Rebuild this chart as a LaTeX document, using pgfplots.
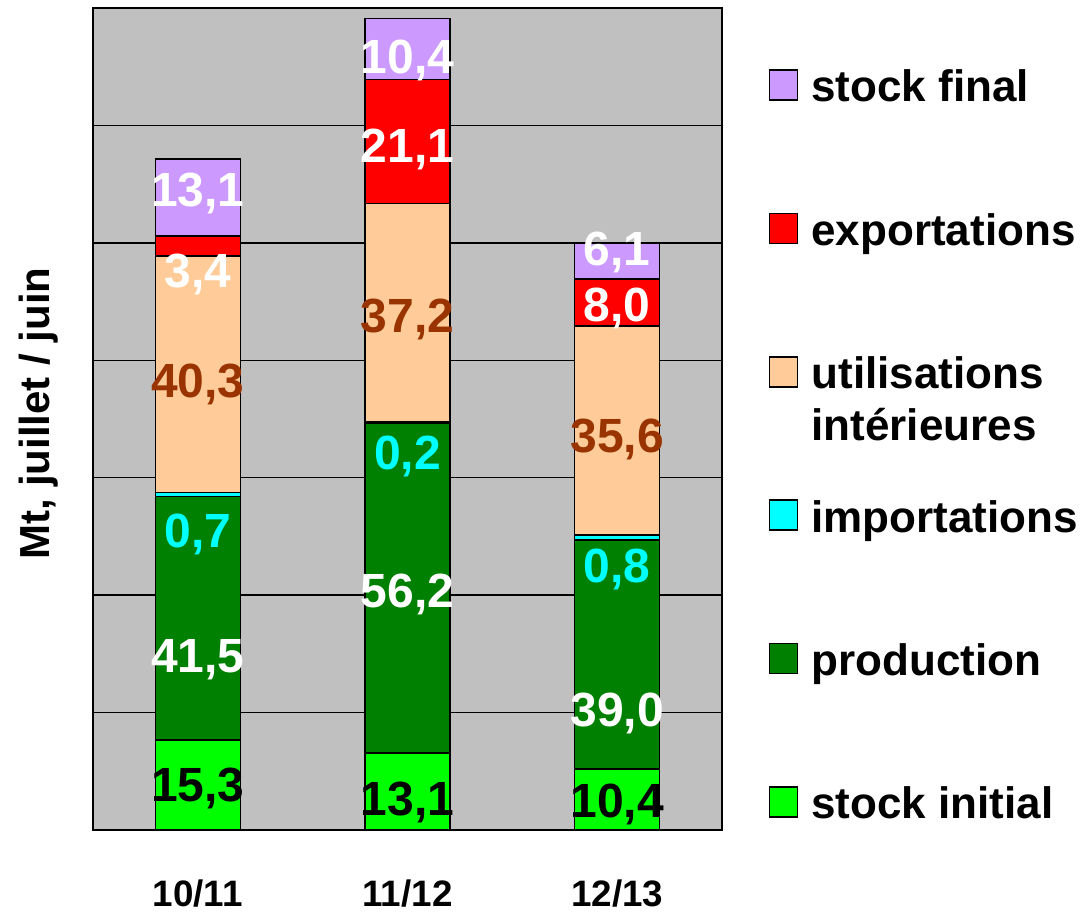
\documentclass[border=0pt]{standalone}
\usepackage{pgfplots}
\pgfplotsset{compat=1.18}
\usepackage{pgfplotstable}
\usepackage{fontspec}
\setmainfont{Liberation Sans}

\definecolor{bg}{HTML}{C0C0C0}
\definecolor{csi}{HTML}{00FF00}
\definecolor{cpr}{HTML}{008000}
\definecolor{cim}{HTML}{00FFFF}
\definecolor{cut}{HTML}{FFCC99}
\definecolor{cex}{HTML}{FF0000}
\definecolor{csf}{HTML}{CC99FF}
\definecolor{brn}{HTML}{993300}

\pgfplotstableread{
x si pr im ut ex sf
0 15.3 41.5 0.7 40.3 3.4 13.1
1 13.1 56.2 0.2 37.2 21.1 10.4
2 10.4 39.0 0.8 35.6 8.0 6.1
}\data

\begin{document}
\begin{tikzpicture}[lab/.style={font=\fontsize{24}{28}\selectfont\bfseries, anchor=base, inner sep=0pt, yshift=-8.6pt}]
\useasboundingbox (-46.5pt,-41.5pt) rectangle (495.5pt,415pt);
\begin{axis}[
 at={(0,0)}, anchor=south west,
 scale only axis, width=314.5pt, height=411pt,
 xmin=-0.5, xmax=2.5, ymin=0, ymax=140,
 ybar stacked, bar width=42.5pt,
 xtick={0,1,2}, xticklabels={\textbf{10/11},\textbf{11/12},\textbf{12/13}},
 ytick={0,20,...,140}, yticklabels={},
 major tick length=0pt,
 ymajorgrids, grid style={black, line width=0.75pt},
 axis line style={black, line width=0.75pt},
 axis background/.style={fill=bg},
 xticklabel style={font=\fontsize{18.4}{22}\selectfont\bfseries, anchor=base, inner sep=0pt, yshift=-38.25pt},
 ylabel={Mt, juillet / juin},
 every axis y label/.style={at={(axis description cs:-0.06836,0.507)}, rotate=90, anchor=base, font=\fontsize{21}{25}\selectfont\bfseries, inner sep=0pt},
 reverse legend,
 legend cell align=left,
 legend image code/.code={\draw[#1, line width=0.75pt] (0pt,-7.5pt) rectangle (14pt,7.5pt);},
 legend style={at={(axis description cs:1.07472,0.99355)}, anchor=north west, draw=none, fill=none, inner sep=0pt, outer sep=0pt, /tikz/row sep=0pt, /tikz/column sep=6.5pt, nodes={inner sep=0pt, text height=44.35pt, text depth=27.35pt, font=\fontsize{22}{26}\selectfont\bfseries}},
]
\addplot[fill=csi, draw=black, line width=0.75pt] table[x=x,y=si]{\data};
\addlegendentry{stock initial}
\addplot[fill=cpr, draw=black, line width=0.75pt] table[x=x,y=pr]{\data};
\addlegendentry{production}
\addplot[fill=cim, draw=black, line width=0.75pt] table[x=x,y=im]{\data};
\addlegendentry{importations}
\addplot[fill=cut, draw=black, line width=0.75pt] table[x=x,y=ut]{\data};
\addlegendentry{\vtop{\hbox{utilisations}\hbox{intérieures}}}
\addplot[fill=cex, draw=black, line width=0.75pt] table[x=x,y=ex]{\data};
\addlegendentry{exportations}
\addplot[fill=csf, draw=black, line width=0.75pt] table[x=x,y=sf]{\data};
\addlegendentry{stock final}

\coordinate (a1) at (axis cs:0,7.7);
\coordinate (a2) at (axis cs:0,29.8);
\coordinate (a3) at (axis cs:0,51.1);
\coordinate (a4) at (axis cs:0,76.6);
\coordinate (a5) at (axis cs:0,95.3);
\coordinate (a6) at (axis cs:0,109.2);
\coordinate (b1) at (axis cs:1,5.4);
\coordinate (b2) at (axis cs:1,40.8);
\coordinate (b3) at (axis cs:1,64.3);
\coordinate (b4) at (axis cs:1,87.6);
\coordinate (b5) at (axis cs:1,116.6);
\coordinate (b6) at (axis cs:1,131.7);
\coordinate (c1) at (axis cs:2,5.1);
\coordinate (c2) at (axis cs:2,20.6);
\coordinate (c3) at (axis cs:2,45.1);
\coordinate (c4) at (axis cs:2,67.2);
\coordinate (c5) at (axis cs:2,89.5);
\coordinate (c6) at (axis cs:2,99.0);
\end{axis}
\node[lab, text=black] at (a1) {15,3};
\node[lab, text=white] at (a2) {41,5};
\node[lab, text=cim] at (a3) {0,7};
\node[lab, text=brn] at (a4) {40,3};
\node[lab, text=white] at (a5) {3,4};
\node[lab, text=white] at (a6) {13,1};

\node[lab, text=black] at (b1) {13,1};
\node[lab, text=white] at (b2) {56,2};
\node[lab, text=cim] at (b3) {0,2};
\node[lab, text=brn] at (b4) {37,2};
\node[lab, text=white] at (b5) {21,1};
\node[lab, text=white] at (b6) {10,4};

\node[lab, text=black] at (c1) {10,4};
\node[lab, text=white] at (c2) {39,0};
\node[lab, text=cim] at (c3) {0,8};
\node[lab, text=brn] at (c4) {35,6};
\node[lab, text=white] at (c5) {8,0};
\node[lab, text=white] at (c6) {6,1};
\end{tikzpicture}
\end{document}
